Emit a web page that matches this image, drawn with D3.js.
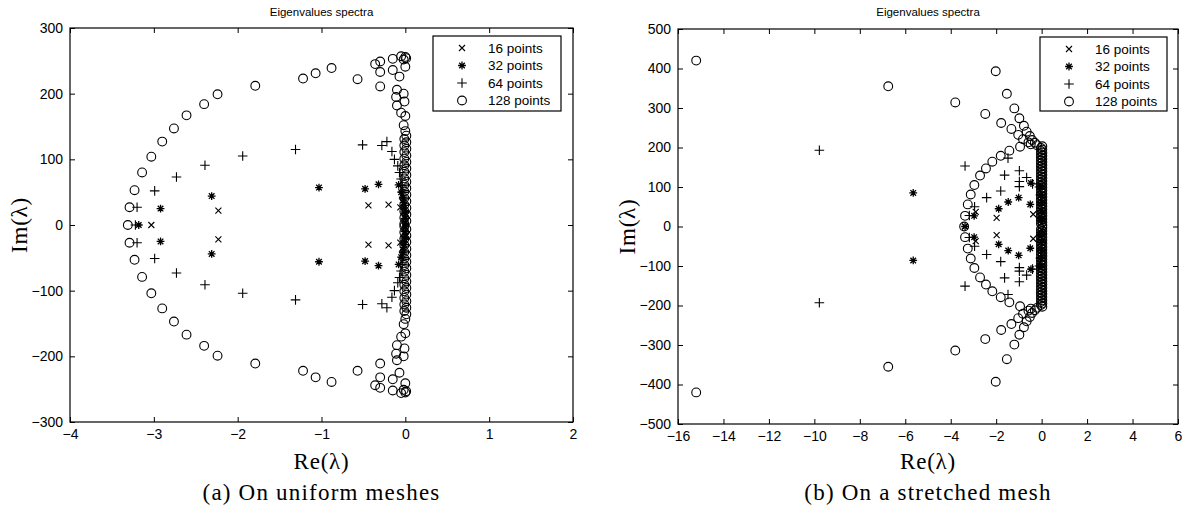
<!DOCTYPE html>
<html>
<head>
<meta charset="utf-8">
<script src="https://cdn.jsdelivr.net/npm/d3@7"></script>
<style>
  html, body { margin: 0; padding: 0; background: #fff; }
  svg { display: block; }
  .tick text { font-family: "Liberation Sans", Arial, sans-serif; font-size: 14px; fill: #000; }
  .tick line { stroke: #000; stroke-width: 1; }
</style>
</head>
<body>
<svg id="chart" width="1190" height="510"></svg>
<script>
// ---- Panel (a): uniform meshes, eigenvalues as [Re, Im] ----
const uniform16 = [
  [-3.03, 0], [-2.23, 22], [-2.23, -22], [-0.44, 30], [-0.44, -30],
  [-0.20, 31], [-0.20, -31], [-0.06, 27], [-0.06, -27], [-0.02, 20], [-0.02, -20],
  [-0.01, 12], [-0.01, -12], [0, 4], [0, -4]
];
const uniform32 = [
  [-3.18, 0], [-2.92, 25], [-2.92, -25], [-2.31, 44], [-2.31, -44],
  [-1.03, 57], [-1.03, -56], [-0.48, 55], [-0.48, -55], [-0.32, 62], [-0.32, -62],
  [-0.08, 61], [-0.08, -60], [-0.05, 50], [-0.05, -49], [-0.03, 42], [-0.03, -42],
  [-0.02, 34], [-0.02, -34], [-0.01, 26], [-0.01, -26], [0, 18], [0, -18],
  [0, 10], [0, -10], [0, 3], [0, -3]
];
const uniform64 = [
  [-3.22, 0], [-3.20, 27], [-3.20, -27], [-2.99, 52], [-2.99, -51],
  [-2.73, 73], [-2.73, -73], [-2.39, 91], [-2.39, -91], [-1.94, 105], [-1.94, -104],
  [-1.31, 115], [-1.31, -114], [-0.51, 122], [-0.51, -121], [-0.28, 121], [-0.28, -120],
  [-0.22, 127], [-0.22, -126], [-0.16, 112], [-0.16, -110], [-0.13, 100], [-0.13, -100],
  [-0.09, 90], [-0.09, -88], [-0.07, 80], [-0.07, -80], [-0.05, 70], [-0.05, -70],
  [-0.04, 60], [-0.04, -60], [-0.03, 50], [-0.03, -50], [-0.02, 40], [-0.02, -40],
  [-0.01, 30], [-0.01, -30], [0, 20], [0, -20], [0, 10], [0, -10]
];
const uniform128 = [
  [-3.31, 0],
  [-3.29, 27], [-3.23, 53], [-3.14, 80], [-3.03, 104], [-2.90, 127], [-2.76, 147],
  [-2.61, 167], [-2.40, 184], [-2.24, 199], [-1.79, 212], [-1.22, 223], [-1.07, 231],
  [-0.88, 239], [-0.57, 222], [-0.36, 245], [-0.30, 249], [-0.30, 233], [-0.30, 211],
  [-0.15, 253], [-0.15, 236], [-0.07, 226], [-0.10, 206], [-0.11, 195], [-0.10, 182],
  [-0.02, 200], [-0.01, 188], [-0.05, 171], [0.00, 166], [-0.02, 152], [0.00, 143],
  [-0.05, 257], [0.00, 256], [-0.02, 252], [0.00, 241], [0.01, 254],
  [0.012, 136], [-0.012, 131], [0.012, 126], [-0.012, 121], [0.012, 116], [-0.012, 111],
  [0.012, 106], [-0.012, 101], [0.012, 96], [-0.012, 91], [0.012, 86], [-0.012, 81],
  [0.012, 76], [-0.012, 71], [0.012, 66], [-0.012, 61], [0.012, 56], [-0.012, 51],
  [0.012, 46], [-0.012, 41], [0.012, 36], [-0.012, 31], [0.012, 26], [-0.012, 21],
  [0.012, 16], [-0.012, 11], [0.012, 6], [-0.012, 2],
  [-3.29, -27], [-3.23, -53], [-3.14, -79], [-3.03, -104], [-2.90, -127], [-2.76, -147],
  [-2.61, -167], [-2.40, -184], [-2.24, -199], [-1.79, -211], [-1.22, -222], [-1.07, -232],
  [-0.88, -239], [-0.57, -222], [-0.36, -244], [-0.30, -248], [-0.30, -232], [-0.30, -211],
  [-0.15, -252], [-0.15, -235], [-0.07, -225], [-0.10, -206], [-0.11, -196], [-0.10, -183],
  [-0.02, -200], [-0.01, -188], [-0.05, -170], [0.00, -165], [-0.02, -151], [0.00, -143],
  [-0.05, -256], [0.00, -255], [-0.02, -251], [0.00, -241], [0.01, -253],
  [0.012, -136], [-0.012, -131], [0.012, -126], [-0.012, -121], [0.012, -116], [-0.012, -111],
  [0.012, -106], [-0.012, -101], [0.012, -96], [-0.012, -91], [0.012, -86], [-0.012, -81],
  [0.012, -76], [-0.012, -71], [0.012, -66], [-0.012, -61], [0.012, -56], [-0.012, -51],
  [0.012, -46], [-0.012, -41], [0.012, -36], [-0.012, -31], [0.012, -26], [-0.012, -21],
  [0.012, -16], [-0.012, -11], [0.012, -6], [-0.012, -2]
];
const uniformReTicks = [-4, -3, -2, -1, 0, 1, 2];
const uniformImTicks = [-300, -200, -100, 0, 100, 200, 300];

// ---- Panel (b): stretched mesh, eigenvalues as [Re, Im] ----
const stretched16 = [
  [-3.38, 0], [-2.90, 37], [-2.90, -37], [-1.98, 22], [-1.98, -22],
  [-0.37, 31], [-0.37, -31], [-0.06, 27], [-0.06, -27], [-0.02, 18], [-0.02, -18],
  [0, 8], [0, -8]
];
const stretched32 = [
  [-5.65, 85], [-5.65, -86], [-3.37, 0], [-2.97, 27], [-2.97, -27],
  [-1.89, 45], [-1.89, -45], [-1.47, 62], [-1.47, -61], [-1.01, 73], [-1.01, -73],
  [-0.50, 56], [-0.50, -55], [-0.47, 110], [-0.47, -108], [-0.05, 100], [-0.05, -100],
  [-0.02, 80], [-0.02, -80], [0, 60], [0, -60], [0, 40], [0, -40], [0, 20], [0, -20]
];
const stretched64 = [
  [-9.78, 193], [-9.78, -193], [-3.37, 153], [-3.37, -151], [-3.18, 28], [-3.18, -28],
  [-2.95, 50], [-2.95, -50], [-2.42, 73], [-2.42, -71], [-1.80, 90], [-1.80, -89],
  [-1.63, 130], [-1.63, -130], [-1.48, 173], [-1.48, -172], [-0.98, 141], [-0.98, -140],
  [-0.98, 114], [-0.98, -113], [-0.98, 101], [-0.98, -104], [-0.66, 124], [-0.66, -123],
  [-0.40, 108], [-0.40, -108], [-0.10, 100], [-0.10, -100], [-0.05, 80], [-0.05, -80],
  [-0.02, 60], [-0.02, -60], [0, 40], [0, -40], [0, 20], [0, -20]
];
const stretched128 = [
  [-3.41, 0],
  [-15.2, 420], [-6.75, 355], [-3.80, 314], [-2.02, 393], [-1.53, 336], [-2.48, 285],
  [-1.20, 299], [-1.78, 262], [-0.98, 274], [-1.33, 247], [-0.78, 255], [-1.03, 232],
  [-0.66, 240], [-0.52, 229], [-0.82, 221], [-0.42, 219], [-0.30, 212], [-0.58, 213],
  [-0.48, 208], [-0.20, 206],
  [-0.95, 202], [-1.42, 192], [-1.80, 179], [-2.17, 164], [-2.45, 147], [-2.71, 129],
  [-2.96, 105], [-3.12, 81], [-3.25, 56], [-3.37, 27],
  [0.03, 203], [-0.03, 199], [0.03, 195], [-0.03, 191], [0.03, 187], [-0.03, 183],
  [0.03, 179], [-0.03, 175], [0.03, 171], [-0.03, 167], [0.03, 163], [-0.03, 159],
  [0.03, 155], [-0.03, 151], [0.03, 147], [-0.03, 143], [0.03, 139], [-0.03, 135],
  [0.03, 131], [-0.03, 127], [0.03, 123], [-0.03, 119], [0.03, 115], [-0.03, 111],
  [0.03, 107], [-0.03, 103], [0.03, 99], [-0.03, 95], [0.03, 91], [-0.03, 87],
  [0.03, 83], [-0.03, 79], [0.03, 75], [-0.03, 71], [0.03, 67], [-0.03, 63],
  [0.03, 59], [-0.03, 55], [0.03, 51], [-0.03, 47], [0.03, 43], [-0.03, 39],
  [0.03, 35], [-0.03, 31], [0.03, 27], [-0.03, 23], [0.03, 19], [-0.03, 15],
  [0.03, 11], [-0.03, 7], [0.03, 3],
  [-15.2, -420], [-6.75, -355], [-3.80, -314], [-2.02, -393], [-1.53, -336], [-2.48, -285],
  [-1.20, -299], [-1.78, -262], [-0.98, -274], [-1.33, -247], [-0.78, -255], [-1.03, -232],
  [-0.66, -240], [-0.52, -229], [-0.82, -221], [-0.42, -219], [-0.30, -212], [-0.58, -213],
  [-0.48, -208], [-0.20, -206],
  [-0.95, -202], [-1.42, -192], [-1.80, -179], [-2.17, -164], [-2.45, -147], [-2.71, -129],
  [-2.96, -105], [-3.12, -81], [-3.25, -56], [-3.37, -27],
  [0.03, -203], [-0.03, -199], [0.03, -195], [-0.03, -191], [0.03, -187], [-0.03, -183],
  [0.03, -179], [-0.03, -175], [0.03, -171], [-0.03, -167], [0.03, -163], [-0.03, -159],
  [0.03, -155], [-0.03, -151], [0.03, -147], [-0.03, -143], [0.03, -139], [-0.03, -135],
  [0.03, -131], [-0.03, -127], [0.03, -123], [-0.03, -119], [0.03, -115], [-0.03, -111],
  [0.03, -107], [-0.03, -103], [0.03, -99], [-0.03, -95], [0.03, -91], [-0.03, -87],
  [0.03, -83], [-0.03, -79], [0.03, -75], [-0.03, -71], [0.03, -67], [-0.03, -63],
  [0.03, -59], [-0.03, -55], [0.03, -51], [-0.03, -47], [0.03, -43], [-0.03, -39],
  [0.03, -35], [-0.03, -31], [0.03, -27], [-0.03, -23], [0.03, -19], [-0.03, -15],
  [0.03, -11], [-0.03, -7], [0.03, -3]
];
const stretchedReTicks = [-16, -14, -12, -10, -8, -6, -4, -2, 0, 2, 4, 6];
const stretchedImTicks = [-500, -400, -300, -200, -100, 0, 100, 200, 300, 400, 500];

const seriesNames = ["16 points", "32 points", "64 points", "128 points"];
const seriesMarkers = ["cross", "star", "plus", "circle"];

// ---- Marker shapes ----
function markerPath(kind) {
  switch (kind) {
    case "cross": return "M-3,-3L3,3M-3,3L3,-3";
    case "plus": return "M-4.8,0L4.8,0M0,-4.8L0,4.8";
    case "star": return "M-3.9,0L3.9,0M0,-3.9L0,3.9M-2.8,-2.8L2.8,2.8M-2.8,2.8L2.8,-2.8";
    default: return null;
  }
}
function drawMarker(g, kind, x, y) {
  if (kind === "circle") {
    g.append("circle").attr("cx", x).attr("cy", y).attr("r", 4.4)
      .attr("fill", "none").attr("stroke", "#000").attr("stroke-width", 1.1);
  } else {
    g.append("path").attr("d", markerPath(kind))
      .attr("transform", `translate(${x},${y})`)
      .attr("fill", "none").attr("stroke", "#000").attr("stroke-width", kind === "star" ? 1.3 : 1.1);
  }
}

const svg = d3.select("#chart");
const intFormat = d3.format("d");

function panel(cfg) {
  const { left, right, top, bottom, xDomain, yDomain, xTicks, yTicks, series, legend, caption } = cfg;
  const x = d3.scaleLinear().domain(xDomain).range([left, right]);
  const y = d3.scaleLinear().domain(yDomain).range([bottom, top]);
  const g = svg.append("g");

  // axes with inward ticks on all four sides
  g.append("g").attr("transform", `translate(0,${bottom})`)
    .call(d3.axisBottom(x).tickValues(xTicks).tickFormat(intFormat).tickSizeInner(-5).tickSizeOuter(0).tickPadding(7))
    .call(a => a.select(".domain").remove());
  g.append("g").attr("transform", `translate(0,${top})`)
    .call(d3.axisTop(x).tickValues(xTicks).tickSizeInner(-5).tickSizeOuter(0).tickFormat(""))
    .call(a => a.select(".domain").remove());
  g.append("g").attr("transform", `translate(${left},0)`)
    .call(d3.axisLeft(y).tickValues(yTicks).tickFormat(intFormat).tickSizeInner(-5).tickSizeOuter(0).tickPadding(7))
    .call(a => a.select(".domain").remove());
  g.append("g").attr("transform", `translate(${right},0)`)
    .call(d3.axisRight(y).tickValues(yTicks).tickSizeInner(-5).tickSizeOuter(0).tickFormat(""))
    .call(a => a.select(".domain").remove());

  g.append("rect").attr("x", left).attr("y", top)
    .attr("width", right - left).attr("height", bottom - top)
    .attr("fill", "none").attr("stroke", "#000").attr("stroke-width", 1.2);

  // eigenvalue markers
  series.forEach((pts, i) => {
    const sg = g.append("g");
    pts.forEach(p => drawMarker(sg, seriesMarkers[i], x(p[0]), y(p[1])));
  });

  // legend
  const lg = g.append("g");
  lg.append("rect").attr("x", legend.x).attr("y", legend.y)
    .attr("width", legend.w).attr("height", legend.h)
    .attr("fill", "#fff").attr("stroke", "#000").attr("stroke-width", 1.2);
  seriesNames.forEach((name, i) => {
    const cy = legend.y + 12 + i * 17.5;
    drawMarker(lg, seriesMarkers[i], legend.x + 29, cy);
    lg.append("text").attr("x", legend.x + 55).attr("y", cy)
      .attr("dy", "0.35em")
      .style("font-family", "Liberation Sans, Arial, sans-serif").style("font-size", "13.5px")
      .text(name);
  });

  const cx = (left + right) / 2;
  const serif = "Liberation Serif, serif";
  g.append("text").attr("x", cx).attr("y", 12).attr("dy", "0.35em")
    .attr("text-anchor", "middle")
    .style("font-family", "Liberation Sans, Arial, sans-serif").style("font-size", "11.5px")
    .text("Eigenvalues spectra");
  g.append("text").attr("x", cx).attr("y", 461).attr("dy", "0.35em")
    .attr("text-anchor", "middle")
    .style("font-family", serif).style("font-size", "23px").style("letter-spacing", "0.8px")
    .text("Re(λ)");
  g.append("text").attr("transform", `translate(${left - 51},${(top + bottom) / 2}) rotate(-90)`)
    .attr("dy", "0.35em").attr("text-anchor", "middle")
    .style("font-family", serif).style("font-size", "23px").style("letter-spacing", "0.8px")
    .text("Im(λ)");
  g.append("text").attr("x", cx).attr("y", 492).attr("dy", "0.35em")
    .attr("text-anchor", "middle")
    .style("font-family", serif).style("font-size", "23px").style("letter-spacing", "1.2px")
    .text(caption);
}

panel({
  left: 70, right: 573, top: 28, bottom: 422,
  xDomain: [-4, 2], yDomain: [-300, 300],
  xTicks: uniformReTicks, yTicks: uniformImTicks,
  series: [uniform16, uniform32, uniform64, uniform128],
  legend: { x: 433, y: 36, w: 128, h: 75 },
  caption: "(a) On uniform meshes"
});
panel({
  left: 678, right: 1178, top: 29, bottom: 424,
  xDomain: [-16, 6], yDomain: [-500, 500],
  xTicks: stretchedReTicks, yTicks: stretchedImTicks,
  series: [stretched16, stretched32, stretched64, stretched128],
  legend: { x: 1040, y: 37, w: 127, h: 74 },
  caption: "(b) On a stretched mesh"
});
</script>
</body>
</html>
